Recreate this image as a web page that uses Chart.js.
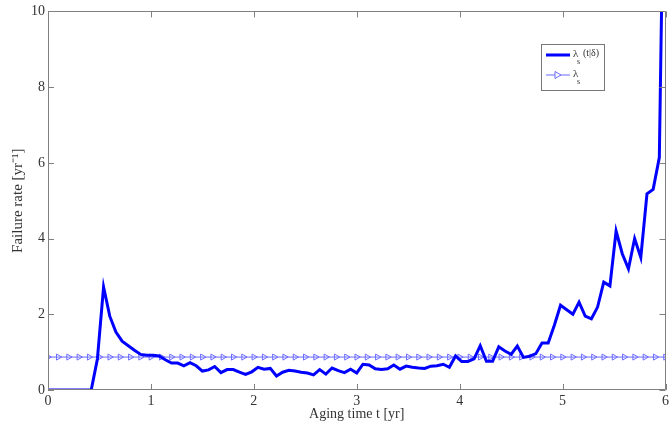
<!DOCTYPE html>
<html>
<head>
<meta charset="utf-8">
<script src="https://cdn.jsdelivr.net/npm/chart.js@4"></script>
<style>
  html, body { margin: 0; padding: 0; background: #fff; }
  #wrap { width: 672px; height: 434px; }
</style>
</head>
<body>
<div id="wrap"><canvas id="chart" width="672" height="434"></canvas></div>
<script>
// ── DATA ──────────────────────────────────────────
// failure rate λs(t|δ), sampled every 0.06 yr from 0 to 6
const lambdaCond = [
  0, 0, 0, 0, 0, 0, 0, 0, 0.82, 2.72,
  1.95, 1.53, 1.29, 1.17, 1.05, 0.94, 0.92, 0.92, 0.90, 0.80,
  0.71, 0.71, 0.64, 0.72, 0.64, 0.50, 0.53, 0.62, 0.46, 0.54,
  0.54, 0.47, 0.41, 0.48, 0.60, 0.55, 0.57, 0.37, 0.47, 0.52,
  0.50, 0.47, 0.45, 0.40, 0.54, 0.42, 0.58, 0.51, 0.46, 0.55,
  0.45, 0.68, 0.66, 0.56, 0.54, 0.56, 0.66, 0.55, 0.63, 0.60,
  0.58, 0.57, 0.63, 0.64, 0.68, 0.60, 0.90, 0.75, 0.75, 0.82,
  1.17, 0.76, 0.76, 1.14, 1.03, 0.94, 1.16, 0.86, 0.89, 0.96,
  1.24, 1.24, 1.71, 2.24, 2.12, 2.00, 2.32, 1.95, 1.88, 2.19,
  2.85, 2.75, 4.20, 3.60, 3.20, 4.00, 3.50, 5.18, 5.30, 6.14,
  17.0
];
const stepCond = 0.06;
const agingTime = lambdaCond.map((_, i) => +(i * stepCond).toFixed(2));

// constant rate λs, marked every 0.1 yr
const lambdaS = 0.87;
const markerTime = Array.from({ length: 61 }, (_, i) => +(i * 0.1).toFixed(1));

const xTicks = [0, 1, 2, 3, 4, 5, 6];
const yTicks = [0, 2, 4, 6, 8, 10];

const AXIS = '#808080';
const TXT = '#333';
const SERIF = '"Liberation Serif", "Times New Roman", serif';

// ── PLUGINS ───────────────────────────────────────
// box + inward ticks, matlab style
const boxTicks = {
  id: 'boxTicks',
  afterDatasetsDraw(chart) {
    const { ctx, chartArea: { left, right, top, bottom }, scales: { x, y } } = chart;
    ctx.save();
    ctx.strokeStyle = AXIS;
    ctx.lineWidth = 1;
    ctx.beginPath();
    ctx.rect(Math.round(left) + 0.5, Math.round(top) + 0.5,
      Math.round(right - left) - 1, Math.round(bottom - top) - 1);
    xTicks.forEach(v => {
      const px = Math.round(x.getPixelForValue(v)) + 0.5;
      ctx.moveTo(px, bottom); ctx.lineTo(px, bottom - 6);
      ctx.moveTo(px, top); ctx.lineTo(px, top + 6);
    });
    yTicks.forEach(v => {
      const py = Math.round(y.getPixelForValue(v)) + 0.5;
      ctx.moveTo(left, py); ctx.lineTo(left + 6, py);
      ctx.moveTo(right, py); ctx.lineTo(right - 6, py);
    });
    ctx.stroke();
    ctx.restore();
  }
};

// legend box with subscripts
const lambdaLegend = {
  id: 'lambdaLegend',
  afterDraw(chart) {
    const { ctx } = chart;
    const ds = chart.data.datasets;
    const bx = 541, by = 44, bw = 63, bh = 46;
    ctx.save();
    ctx.fillStyle = '#fff';
    ctx.fillRect(bx, by, bw, bh);
    ctx.strokeStyle = '#777';
    ctx.lineWidth = 1;
    ctx.strokeRect(bx + 0.5, by + 0.5, bw, bh);

    const rows = [
      { y: 55, ds: ds[0], tail: '(t|δ)' },
      { y: 75, ds: ds[1], tail: '' }
    ];
    rows.forEach(r => {
      ctx.strokeStyle = r.ds.borderColor;
      ctx.lineWidth = r.ds.borderWidth;
      ctx.beginPath();
      ctx.moveTo(546, r.y); ctx.lineTo(570, r.y);
      ctx.stroke();
      if (r.ds.pointRadius) {
        ctx.lineWidth = 1;
        ctx.beginPath();
        ctx.moveTo(555, r.y - 3.5); ctx.lineTo(561, r.y); ctx.lineTo(555, r.y + 3.5);
        ctx.closePath();
        ctx.fillStyle = '#fff';
        ctx.fill();
        ctx.stroke();
      }
      ctx.fillStyle = TXT;
      ctx.textBaseline = 'middle';
      ctx.font = '11px ' + SERIF;
      ctx.fillText('λ', 573, r.y - 1);
      ctx.font = '8px ' + SERIF;
      ctx.fillText('s', 577, r.y + 7);
      if (r.tail) {
        ctx.font = '10px ' + SERIF;
        ctx.fillText(r.tail, 583, r.y - 2);
      }
    });
    ctx.restore();
  }
};

// ── CHART ─────────────────────────────────────────
new Chart(document.getElementById('chart'), {
  type: 'line',
  data: {
    datasets: [
      {
        label: 'λs(t|δ)',
        data: agingTime.map((t, i) => ({ x: t, y: lambdaCond[i] })),
        borderColor: '#0000ff',
        borderWidth: 3,
        pointRadius: 0,
        tension: 0,
        order: 1
      },
      {
        label: 'λs',
        data: markerTime.map(t => ({ x: t, y: lambdaS })),
        borderColor: '#6b6bff',
        borderWidth: 1,
        pointStyle: 'triangle',
        pointRotation: 90,
        pointRadius: 3.5,
        pointBackgroundColor: 'rgba(255,255,255,0)',
        pointBorderColor: '#6b6bff',
        pointBorderWidth: 1,
        order: 2
      }
    ]
  },
  options: {
    responsive: false,
    animation: false,
    events: [],
    layout: { padding: { top: 10, right: 6, left: 0, bottom: 0 } },
    plugins: { legend: { display: false }, tooltip: { enabled: false } },
    scales: {
      x: {
        type: 'linear',
        min: 0, max: 6,
        afterFit: s => { s.height = 44; },
        afterBuildTicks: s => { s.ticks = xTicks.map(v => ({ value: v })); },
        grid: { display: false, drawTicks: false },
        border: { display: false },
        ticks: { color: TXT, padding: 3, font: { family: SERIF, size: 14 } },
        title: {
          display: true, text: 'Aging time t [yr]', color: TXT,
          font: { family: SERIF, size: 14 }, padding: { top: 0, bottom: 11 }
        }
      },
      y: {
        min: 0, max: 10,
        afterFit: s => { s.width = 48; },
        afterBuildTicks: s => { s.ticks = yTicks.map(v => ({ value: v })); },
        grid: { display: false, drawTicks: false },
        border: { display: false },
        ticks: { color: TXT, padding: 3, font: { family: SERIF, size: 14 } },
        title: {
          display: true, text: 'Failure rate [yr⁻¹]', color: TXT,
          font: { family: SERIF, size: 15 }, padding: { top: 9, bottom: 0 }
        }
      }
    }
  },
  plugins: [boxTicks, lambdaLegend]
});
</script>
</body>
</html>
